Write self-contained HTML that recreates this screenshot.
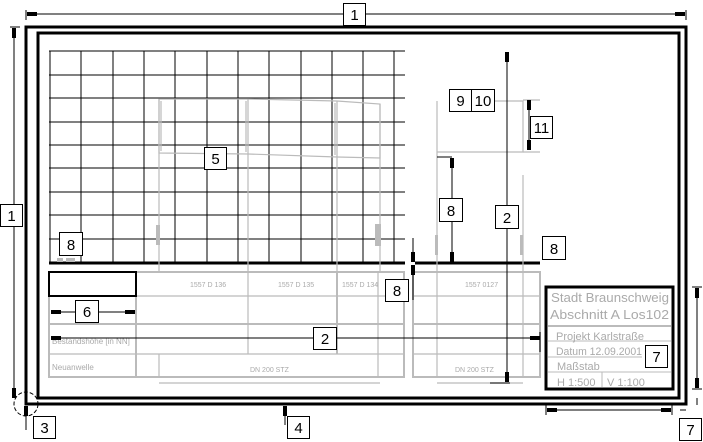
<!DOCTYPE html>
<html><head><style>html,body{margin:0;padding:0;background:#fff}svg{display:block}</style></head>
<body>
<svg width="703" height="442" viewBox="0 0 703 442" xmlns="http://www.w3.org/2000/svg" font-family="Liberation Sans, sans-serif">
<defs>
<marker id="a" viewBox="0 0 10 6" refX="10" refY="3" markerWidth="10" markerHeight="6" orient="auto-start-reverse" markerUnits="userSpaceOnUse"><path d="M0,1 L10,1 L10,5 L0,5 Z" fill="#000"/></marker>
</defs>
<rect x="26" y="27" width="660" height="377" fill="none" stroke="#000" stroke-width="3"/>
<rect x="38" y="33" width="641" height="365" fill="none" stroke="#000" stroke-width="3"/>
<g stroke="#000" stroke-width="1">
<line x1="49" y1="51" x2="405" y2="51"/><line x1="49" y1="75" x2="405" y2="75"/><line x1="49" y1="98" x2="405" y2="98"/>
<line x1="49" y1="122" x2="405" y2="122"/><line x1="49" y1="145" x2="405" y2="145"/><line x1="49" y1="168" x2="405" y2="168"/>
<line x1="49" y1="192" x2="405" y2="192"/><line x1="49" y1="215" x2="405" y2="215"/><line x1="49" y1="239" x2="405" y2="239"/>
<line x1="50" y1="51" x2="50" y2="263"/><line x1="81" y1="51" x2="81" y2="263"/><line x1="113" y1="51" x2="113" y2="263"/>
<line x1="144" y1="51" x2="144" y2="263"/><line x1="175" y1="51" x2="175" y2="263"/><line x1="207" y1="51" x2="207" y2="263"/>
<line x1="238" y1="51" x2="238" y2="263"/><line x1="269" y1="51" x2="269" y2="263"/><line x1="301" y1="51" x2="301" y2="263"/>
<line x1="332" y1="51" x2="332" y2="263"/><line x1="363" y1="51" x2="363" y2="263"/><line x1="394" y1="51" x2="394" y2="263"/>
</g>
<line x1="49" y1="263" x2="405" y2="263" stroke="#000" stroke-width="3"/>
<line x1="415" y1="263" x2="540" y2="263" stroke="#000" stroke-width="3"/>
<g stroke="#bbb" stroke-width="1.2" fill="none">
<path d="M159,99 L248,99 L337,101 L380,104 L380,158 L337,157 L248,154 L159,153 Z"/>
<path d="M161,101 L161,151 M246,101 L246,152 M335,103 L335,155"/>
<line x1="159" y1="99" x2="159" y2="272"/><line x1="248" y1="99" x2="248" y2="272"/><line x1="337" y1="101" x2="337" y2="272"/><line x1="380" y1="104" x2="380" y2="272"/>
<path d="M437,101 L437,272 M437,152 L523,152 L523,101 L450,101"/>
<line x1="523" y1="100" x2="540" y2="100"/>
<line x1="523" y1="152" x2="540" y2="152"/>
<line x1="523" y1="175" x2="523" y2="272"/>
<rect x="49" y="272" width="355" height="105" stroke-width="2"/>
<line x1="49" y1="324" x2="404" y2="324" stroke-width="2"/>
<line x1="49" y1="296" x2="404" y2="296"/><line x1="49" y1="354" x2="404" y2="354"/>
<line x1="136" y1="272" x2="136" y2="377" stroke-width="2"/>
<line x1="248" y1="272" x2="248" y2="354"/><line x1="337" y1="272" x2="337" y2="354" stroke-width="2"/><line x1="378" y1="272" x2="378" y2="377"/>
<line x1="159" y1="354" x2="159" y2="377"/>
<rect x="413" y="272" width="127" height="105" stroke-width="2"/>
<line x1="413" y1="324" x2="540" y2="324" stroke-width="2"/>
<line x1="413" y1="296" x2="540" y2="296"/><line x1="413" y1="354" x2="540" y2="354"/>
<line x1="437" y1="272" x2="437" y2="377"/><line x1="523" y1="272" x2="523" y2="377"/>
<line x1="159" y1="383" x2="380" y2="383"/><line x1="437" y1="383" x2="523" y2="383"/>
</g>
<g fill="#bbb"><rect x="156" y="225" width="4" height="20"/><rect x="375" y="224" width="6" height="22"/><rect x="435" y="235" width="3" height="20"/><rect x="520" y="235" width="3" height="20"/>
<rect x="57" y="258" width="6" height="4"/><rect x="66" y="258" width="9" height="4"/></g>
<g fill="#aaa" font-size="7">
<text x="190" y="287">1557 D 136</text><text x="278" y="287">1557 D 135</text><text x="342" y="287">1557 D 134</text><text x="465" y="287">1557 0127</text>
<text x="52" y="344" font-size="8">Bestandshöhe [in NN]</text><text x="52" y="370" font-size="8">Neuanwelle</text>
<text x="250" y="372">DN 200 STZ</text><text x="455" y="372">DN 200 STZ</text>
</g>
<rect x="49" y="272" width="87" height="24" fill="none" stroke="#000" stroke-width="2"/>
<rect x="546" y="287" width="127" height="102" fill="#fff" stroke="#000" stroke-width="3"/>
<g stroke="#bbb" stroke-width="1"><line x1="548" y1="326" x2="671" y2="326" stroke-width="2"/><line x1="548" y1="341" x2="671" y2="341"/><line x1="548" y1="357" x2="642" y2="357"/><line x1="548" y1="372" x2="671" y2="372"/><line x1="602" y1="372" x2="602" y2="387"/></g>
<g fill="#aaa"><text x="551" y="302" font-size="13" textLength="118" lengthAdjust="spacingAndGlyphs">Stadt Braunschweig</text><text x="550" y="319" font-size="13" textLength="119" lengthAdjust="spacingAndGlyphs">Abschnitt A Los102</text>
<text x="556" y="340" font-size="11">Projekt Karlstraße</text><text x="556" y="355" font-size="11" textLength="86" lengthAdjust="spacingAndGlyphs">Datum 12.09.2001</text><text x="557" y="370" font-size="11">Maßstab</text><text x="557" y="386" font-size="11">H 1:500</text><text x="607" y="386" font-size="11">V 1:100</text></g>
<g stroke="#000" stroke-width="1" fill="none">
<line x1="26" y1="10" x2="26" y2="20"/><line x1="686" y1="10" x2="686" y2="20"/>
<line x1="27" y1="14" x2="685" y2="14" marker-start="url(#a)" marker-end="url(#a)"/>
<line x1="10" y1="27" x2="20" y2="27"/>
<line x1="14" y1="28" x2="14" y2="398" marker-start="url(#a)" marker-end="url(#a)"/>
<line x1="507" y1="52" x2="507" y2="382" marker-start="url(#a)" marker-end="url(#a)"/>
<line x1="490" y1="383" x2="510" y2="383"/>
<line x1="51" y1="338" x2="540" y2="338" marker-start="url(#a)" marker-end="url(#a)"/>
<line x1="540" y1="332" x2="540" y2="352"/>
<line x1="51" y1="312" x2="135" y2="312" marker-start="url(#a)" marker-end="url(#a)"/>
<line x1="529" y1="100" x2="529" y2="150" marker-start="url(#a)" marker-end="url(#a)"/>
<line x1="437" y1="157" x2="452" y2="157"/>
<line x1="452" y1="158" x2="452" y2="262" marker-start="url(#a)" marker-end="url(#a)"/>
<line x1="413" y1="238" x2="413" y2="262" marker-end="url(#a)"/>
<line x1="413" y1="300" x2="413" y2="265" marker-end="url(#a)"/>
<line x1="697" y1="288" x2="697" y2="388" marker-start="url(#a)" marker-end="url(#a)"/>
<line x1="692" y1="287" x2="702" y2="287"/><line x1="692" y1="389" x2="702" y2="389"/>
<line x1="547" y1="410" x2="671" y2="410" marker-start="url(#a)" marker-end="url(#a)"/>
<line x1="546" y1="404" x2="546" y2="415"/><line x1="672" y1="404" x2="672" y2="415"/>
<line x1="680" y1="410" x2="686" y2="410"/>
<line x1="697" y1="398" x2="697" y2="405"/>
<line x1="26" y1="430" x2="26" y2="406" marker-end="url(#a)"/>
<line x1="285" y1="425" x2="285" y2="406" marker-end="url(#a)"/>
<circle cx="26" cy="404" r="12" stroke-dasharray="4,2"/>
</g>
<g font-size="15" text-anchor="middle" fill="#000">
<g stroke="#000" stroke-width="1" fill="#fff">
<rect x="343.5" y="3.5" width="22" height="22"/><rect x="0.5" y="204.5" width="22" height="22"/>
<rect x="33.5" y="416.5" width="22" height="22"/><rect x="287.5" y="416.5" width="22" height="22"/>
<rect x="679.5" y="418.5" width="22" height="22"/><rect x="645.5" y="345.5" width="22" height="22"/>
<rect x="204.5" y="147.5" width="22" height="22"/><rect x="449.5" y="89.5" width="22" height="22"/><rect x="471.5" y="89.5" width="23" height="22"/>
<rect x="530.5" y="116.5" width="22" height="22"/><rect x="439.5" y="198.5" width="23" height="23"/><rect x="495.5" y="205.5" width="23" height="23"/>
<rect x="59.5" y="232.5" width="23" height="23"/><rect x="542.5" y="236.5" width="23" height="23"/><rect x="385.5" y="279.5" width="23" height="22"/>
<rect x="75.5" y="300.5" width="23" height="22"/><rect x="313.5" y="327.5" width="23" height="22"/>
</g>
<text x="354.5" y="20">1</text><text x="11.5" y="221">1</text><text x="44.5" y="433">3</text><text x="298.5" y="433">4</text>
<text x="690.5" y="435">7</text><text x="656.5" y="362">7</text><text x="215.5" y="164">5</text><text x="460.5" y="106">9</text><text x="483" y="106">10</text>
<text x="541.5" y="133">11</text><text x="451" y="216">8</text><text x="507" y="223">2</text><text x="71" y="250">8</text><text x="554" y="254">8</text>
<text x="397" y="296">8</text><text x="87" y="317">6</text><text x="325" y="344">2</text>
</g>
</svg>
</body></html>
